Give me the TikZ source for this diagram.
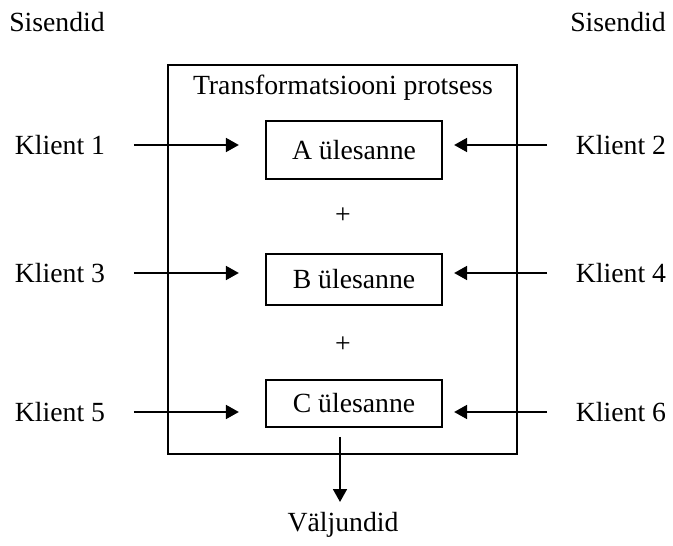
\documentclass[tikz,border=0pt]{standalone}
\usepackage{fontspec}
\setmainfont{Liberation Serif}
\usetikzlibrary{arrows.meta, calc, positioning}

\begin{document}
\begin{tikzpicture}[x=0.433pt,y=-0.433pt,>={Triangle[length=5.6pt,width=6pt]},line width=0.9pt,
	font=\fontsize{12}{14}\selectfont]
	\tikzset{task/.style={draw,minimum width=76.2pt,inner sep=0pt},
		lbl/.style={inner sep=0pt},
		inleft/.style={->,shorten <=12pt,shorten >=11.3pt},
		inright/.style={->,shorten <=12pt,shorten >=4.8pt}}
	\useasboundingbox (0,0) rectangle (673,546);
	% protsess
	\node[draw,minimum width=151.1pt,minimum height=168.4pt,inner sep=0pt] (proc) at (342.5,259.5) {};
	\node[lbl] (title) at (343,88) {Transformatsiooni protsess};
	\node[task,minimum height=25.1pt] (a) at (354,150) {A ülesanne};
	\node[task,minimum height=22.1pt] (b) at (354,279.5) {B ülesanne};
	\node[task,minimum height=20.3pt] (c) at (354,403.5) {C ülesanne};
	\node[lbl] (p1) at (343,216) {+};
	\node[lbl] (p2) at (343,345) {+};
	% sisendid
	\node[lbl] (s1) at (57,22) {Sisendid};
	\node[lbl] (s2) at (618,22) {Sisendid};
	\node[lbl] (k1) at (60,145) {Klient 1};
	\node[lbl] (k2) at (621,145) {Klient 2};
	\node[lbl] (k3) at (60,273) {Klient 3};
	\node[lbl] (k4) at (621,273) {Klient 4};
	\node[lbl] (k5) at (60,412) {Klient 5};
	\node[lbl] (k6) at (621,412) {Klient 6};
	% väljundid
	\node[lbl] (v) at (343,525) {Väljundid};
	\coordinate (o1) at (340,437);
	\coordinate (o2) at (340,502);
	\draw[inleft] (k1.east) -- (k1.east -| a.west);
	\draw[inleft] (k3.east) -- (k3.east -| b.west);
	\draw[inleft] (k5.east) -- (k5.east -| c.west);
	\draw[inright] (k2.west) -- (k2.west -| a.east);
	\draw[inright] (k4.west) -- (k4.west -| b.east);
	\draw[inright] (k6.west) -- (k6.west -| c.east);
	\draw[->] (o1) -- (o2);
\end{tikzpicture}
\end{document}
